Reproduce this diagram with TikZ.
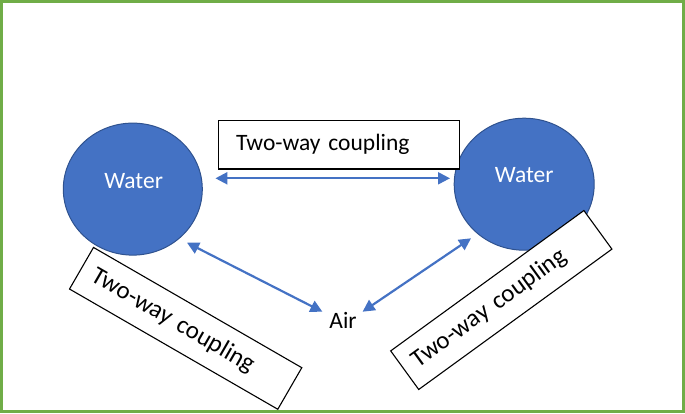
\documentclass[tikz,border=0pt]{standalone}
\usepackage{fontspec}
\setmainfont{Carlito}
\usetikzlibrary{shapes.geometric,arrows.meta}
\definecolor{wblue}{HTML}{4472C4}
\definecolor{wedge}{HTML}{2F528F}
\definecolor{framegreen}{HTML}{70AD47}
\begin{document}
\begin{tikzpicture}[x=1pt,y=-1pt,
  water/.style={ellipse, fill=wblue, draw=wedge, line width=1pt, inner sep=0pt},
  wlabel/.style={text=white, inner sep=0pt, font=\fontsize{23.5}{28}\selectfont},
  plain/.style={text=black, inner sep=0pt, font=\fontsize{23.5}{28}\selectfont},
  coupling/.style={draw=black, fill=white, line width=1.1pt, align=left, inner ysep=0pt},
  arr/.style={draw=wblue, line width=2.2pt, {Triangle[length=12pt,width=12pt]}-{Triangle[length=12pt,width=12pt]}}
]
\useasboundingbox (0,0) rectangle (685,413);
\draw[framegreen, line width=3pt] (1.5,1.5) rectangle (683.5,411.5);

% water bodies
\node[water, minimum width=139pt, minimum height=132pt] (lw) at (132.8,189.1) {};
\node[water, minimum width=140pt, minimum height=132pt] (rw) at (524.2,184.2) {};
\node[wlabel] (lwt) at (133.6,181) {Water};
\node[wlabel] (rwt) at (524.2,175) {Water};

% air
\node[plain] (air) at (343,320.8) {Air};

% coupling boxes
\node[coupling, minimum height=48.3pt, text width=206pt, inner xsep=17.6pt,
      font=\fontsize{23.5}{28}\selectfont] (top) at (339,144.85) {Two-way coupling};
\node[coupling, rotate=-30, minimum height=48pt, text width=214.5pt, inner xsep=13pt,
      font=\fontsize{25}{30}\selectfont] (lbox) at (185.65,328.35) {Two-way coupling};
\node[coupling, rotate=36, minimum height=47.7pt, text width=214pt, inner xsep=12.4pt,
      font=\fontsize{25}{30}\selectfont] (rbox) at (501.3,300) {Two-way coupling};

% connector end points
\coordinate (ta) at (215.4,178.3);
\coordinate (tb) at (450,178.3);
\coordinate (la) at (187,242.7);
\coordinate (lb) at (322.4,311.7);
\coordinate (ra) at (471,238.3);
\coordinate (rb) at (362.6,311.7);

\draw[arr] (ta) -- (tb);
\draw[arr] (la) -- (lb);
\draw[arr] (ra) -- (rb);
\end{tikzpicture}
\end{document}
